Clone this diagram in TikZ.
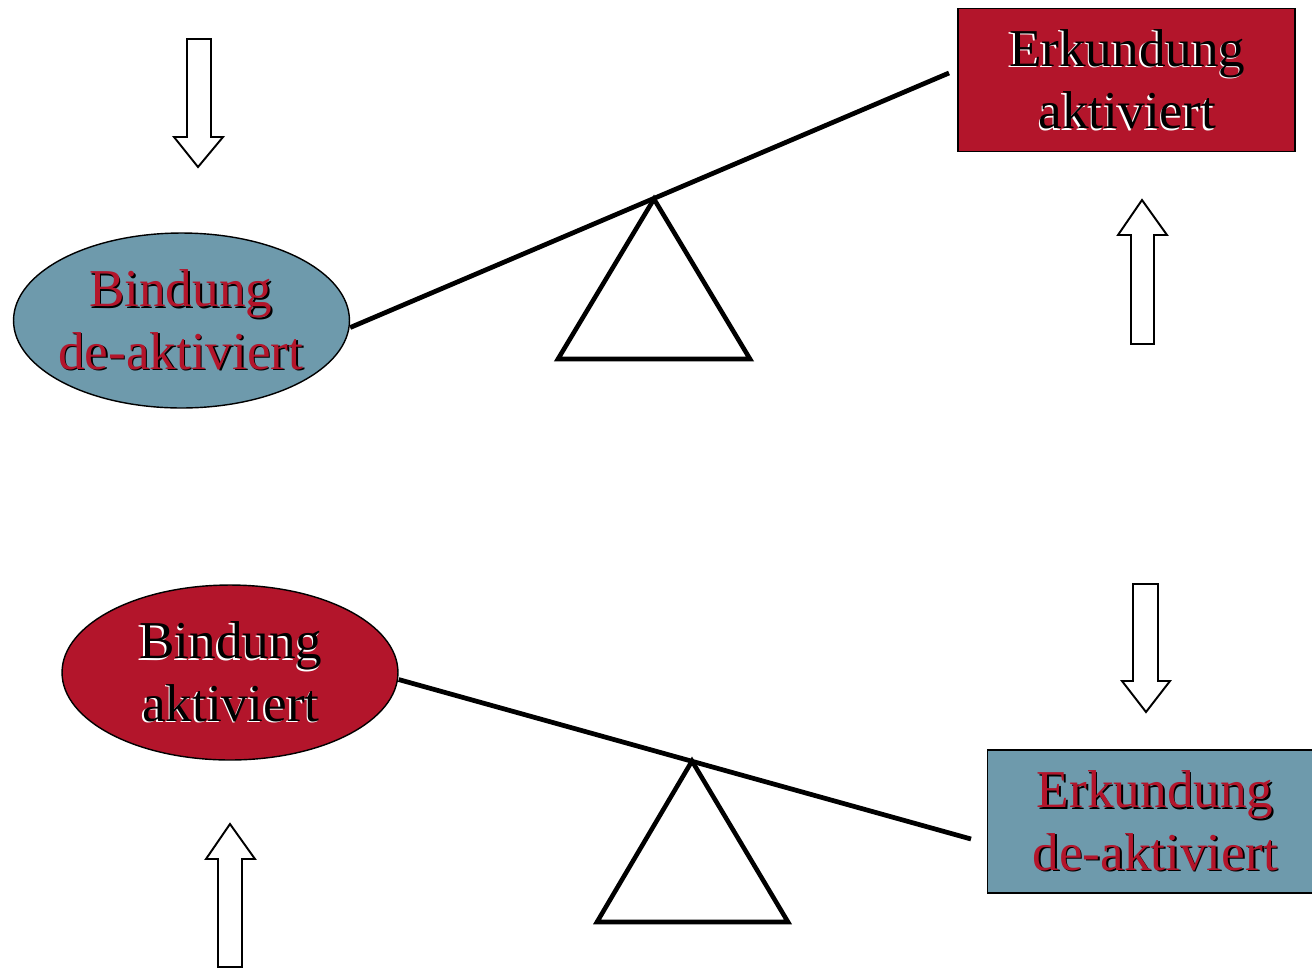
\documentclass[tikz,border=0pt]{standalone}
\usepackage{fontspec}
\setmainfont{Liberation Serif}
\usepackage{xcolor}
\usepackage{tikz}
\usetikzlibrary{shapes.geometric}

\definecolor{bindred}{RGB}{179,21,43}
\definecolor{calmblue}{RGB}{110,154,172}

\begin{document}
\begin{tikzpicture}[
  x=0.02cm, y=-0.02cm,
  labelfont/.style={font=\fontsize{30.3}{35.7}\selectfont, align=center, inner sep=0pt},
  bindnode/.style={draw, ellipse, line width=0.8pt, inner sep=0pt, minimum width=6.72cm, minimum height=3.5cm},
  erkbox/.style={draw, rectangle, line width=0.9pt, inner sep=0pt, minimum width=6.74cm, minimum height=2.86cm},
  shade/.style={labelfont},
  front/.style={labelfont},
  beam/.style={line width=2.7pt},
  pivot/.style={line width=2.6pt},
  hollow/.style={draw, fill=white, line width=1.1pt},
]
\useasboundingbox (0,0) rectangle (1312,968);
\clip (0,0) rectangle (1312,968);

% upper seesaw: Bindung down, Erkundung up
\node[bindnode, fill=calmblue] (bind1) at (181.5,320.5) {};
\node[shade, text=black] (bind1s) at ([shift={(0.8,0.8)}]bind1.center) {Bindung\\de-aktiviert};
\node[front, text=bindred] (bind1t) at ([shift={(-0.8,-0.8)}]bind1.center) {Bindung\\de-aktiviert};
\node[erkbox, fill=bindred] (erk1) at (1126.5,80) {};
\node[shade, text=white] (erk1s) at ([shift={(-0.8,0.8)}]erk1.center) {Erkundung\\aktiviert};
\node[front, text=black] (erk1t) at ([shift={(0.8,-0.8)}]erk1.center) {Erkundung\\aktiviert};

\coordinate (end1) at (949,73);
\coordinate (piv1) at (654,199);
\draw[beam] ([yshift=-4]bind1.east) -- (end1);
\draw[pivot] (piv1) -- ++(-96,160) -- ++(192,0) -- cycle;

\draw[hollow] (187,39) -- (211,39) -- (211,137) -- (223,137) -- (198,167) -- (174,137) -- (187,137) -- cycle;
\draw[hollow] (1142,200) -- (1167,235) -- (1154,235) -- (1154,344) -- (1131,344) -- (1131,235) -- (1118,235) -- cycle;

% lower seesaw: Bindung up, Erkundung down
\node[bindnode, fill=bindred] (bind2) at (230,672.5) {};
\node[shade, text=white] (bind2s) at ([shift={(-0.8,0.8)}]bind2.center) {Bindung\\aktiviert};
\node[front, text=black] (bind2t) at ([shift={(0.8,-0.8)}]bind2.center) {Bindung\\aktiviert};
\node[erkbox, fill=calmblue] (erk2) at (1156,821.5) {};
\node[shade, text=black] (erk2s) at ([shift={(0.8,0.8)}]erk2.center) {Erkundung\\de-aktiviert};
\node[front, text=bindred] (erk2t) at ([shift={(-0.8,-0.8)}]erk2.center) {Erkundung\\de-aktiviert};

\coordinate (end2) at (971,839);
\coordinate (piv2) at (692,761);
\draw[beam] ([yshift=-4]bind2.east) -- (end2);
\draw[pivot] (piv2) -- ++(-95,161) -- ++(191,0) -- cycle;

\draw[hollow] (1133,584) -- (1158,584) -- (1158,681) -- (1170,681) -- (1146,712) -- (1122,681) -- (1133,681) -- cycle;
\draw[hollow] (230,824) -- (255,859) -- (242,859) -- (242,967) -- (218,967) -- (218,859) -- (206,859) -- cycle;

\end{tikzpicture}
\end{document}
